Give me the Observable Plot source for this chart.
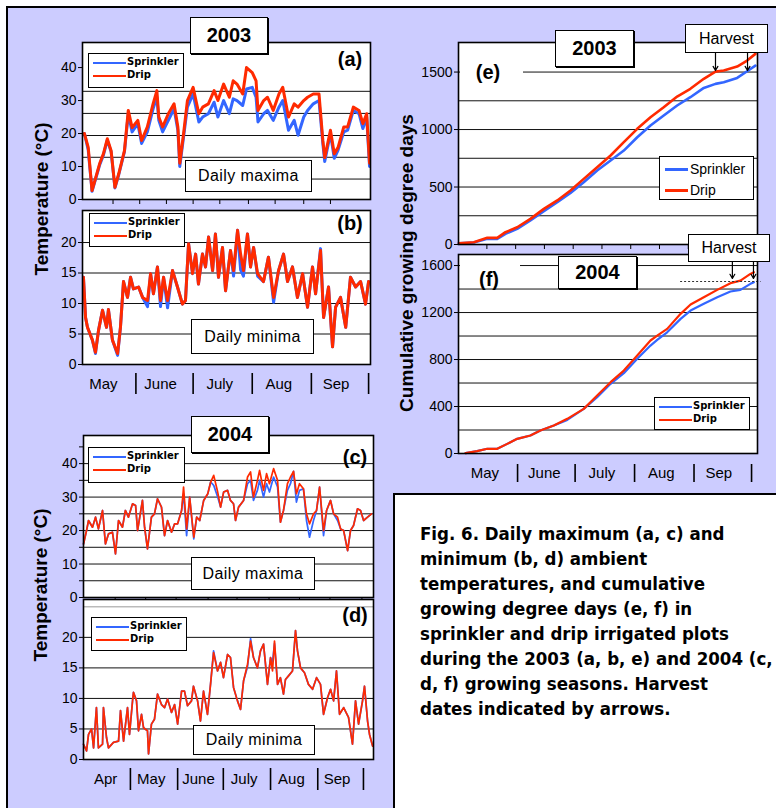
<!DOCTYPE html>
<html><head><meta charset="utf-8">
<script src="https://cdn.jsdelivr.net/npm/d3@7"></script>
<script src="https://cdn.jsdelivr.net/npm/@observablehq/plot@0.6"></script>
<style>
body{margin:0;background:#fff;}
#page{position:relative;width:776px;height:808px;overflow:hidden;background:#fff;font-family:"Liberation Sans",Arial,sans-serif;color:#000;}
#bg{position:absolute;left:6px;top:6px;width:820px;height:840px;background:#ccccff;border-top:2px solid #000;border-left:2px solid #000;}
#plots,#over{position:absolute;left:0;top:0;width:776px;height:808px;}
.box{position:absolute;background:#fff;border:1px solid #000;box-sizing:border-box;display:flex;align-items:center;justify-content:center;white-space:nowrap;}
.title{font-weight:bold;font-size:20px;box-shadow:1px 1px 0 #000;}
.note{font-size:16px;letter-spacing:0.4px;}
.plab{position:absolute;font-weight:bold;font-size:20px;transform:translate(-50%,-50%);white-space:nowrap;}
.ylab{position:absolute;font-weight:bold;font-size:19px;transform:translate(-50%,-50%) rotate(-90deg);white-space:nowrap;}
.leg{position:absolute;background:#fff;border:1px solid #000;box-sizing:border-box;}
.leg .ll{position:absolute;left:4px;width:33px;height:2px;}
.leg span{position:absolute;left:38px;font:bold 10px "DejaVu Sans",sans-serif;line-height:12px;}
.leg2 .ll{left:5px;width:23px;height:3px;}
.leg2 span{left:30px;font:14px "Liberation Sans",Arial,sans-serif;line-height:16px;}
.cover{position:absolute;background:#fff;}
#cap{position:absolute;left:393px;top:493px;width:420px;height:340px;background:#fff;border-top:2px solid #000;border-left:2px solid #000;box-sizing:border-box;padding:26px 0 0 25px;font:bold 18.5px "DejaVu Sans Condensed","DejaVu Sans",sans-serif;line-height:25px;white-space:nowrap;}
</style></head>
<body>
<div id="page">
<div id="bg"></div>
<div id="plots"></div>
<div id="over"></div>
</div>
<script>
const RED = "#ff2a00", BLUE = "#3366ff";

// ---- Panel (a): 2003 daily maxima (day of year) ----
const aDays = [125,127,129,132,133,135,137,139,141,143,146,148,150,153,155,158,161,163,164,166,169,172,174,175,177,179,182,185,187,190,193,195,198,201,203,205,208,210,213,215,216,219,221,224,227,229,232,235,237,240,242,245,248,250,251,254,256,258,261,263,266,269,271,273,274.5];
const aDrip = [20,15.8,2.7,8.8,10.9,13.9,18.4,14.8,3.7,7.8,14.8,27,21.8,24,17.9,22,29,33,25,22,26,29,22,11,20,30,34,26,28,29,33,30,35,31,36,35,32,40,38.5,36,27,30,31,27,32,34,25,29,28,30,31,32,32,18,12.7,21,13.9,15.8,22,22,28,27,23,26,11];
const aSprk = [20,15,2.5,8.5,10.5,13.5,18,14.5,3.5,7.5,14.5,26,20.5,23,17,20.5,27.5,31,24,20.5,24,27.5,21,10,19,28,32,23.5,25,26,29.5,25,30,26,30.5,30,28.5,33.5,34,31,23.5,26,27,24,28,30,21,24,19.5,25,27,29,30,17,11.5,20,12.5,15,20.5,21,27,26,21.5,25,10];

// ---- Panel (b): 2003 daily minima ----
const bDays = [124.5,125.6,126.6,129.2,130.8,132.4,134.5,136.6,137.6,139.7,142.4,143.9,145.5,147.6,149.2,150.7,153.4,155.5,158.1,159.7,161.2,163.3,164.9,166.5,168.6,171.2,173.8,176.4,178,179.6,181.7,183.3,184.8,186.9,188.5,190.1,192.2,193.7,195.3,197.4,199,201.6,203.2,205.3,206.9,208.4,210.5,212.1,213.7,215.8,218.9,221.5,224.2,226.8,229.4,231.5,234.1,236.7,239.4,242,244.6,246.2,248.8,250.4,253,255.1,256.7,259.3,262,264.5,267.2,269.8,272.4,274];
const bDrip = [14.3,7.7,6.1,4,2,5.6,8.9,6.1,9,4,1.8,6.1,13.6,11,14.3,12.4,12.7,11,10.5,14.9,11.6,16,10.5,14.3,10.5,15.4,12.7,9.9,10.5,19.8,14.9,18.1,13.2,18.1,16,20.9,15.4,21.4,14.3,19.2,12.1,18.7,15.4,22,18.1,15.4,21.4,16,19.2,14.9,13.6,17.6,11,15.4,18.1,13.6,16,11,14.9,9.4,16,11.6,18.7,7.7,12.7,2.9,9.4,11,6.1,14.3,12.7,13.6,9.9,13.6];
const bSprk = [14.3,7.7,6.1,4,1.8,5.6,8.9,6.1,9,4,1.5,6.1,13.6,11,14.3,12.4,12.7,11,9.5,14.9,11.6,16,9.5,14.3,9.3,15.4,12.7,9.9,10.5,19.8,14.9,18.1,13.2,18.1,16,20.9,15.4,21.4,14.3,19.2,12.1,18.7,14.5,22,15.5,14.5,21.4,16,19.2,14.5,13.6,17.6,10.2,15.4,18.1,13.6,16,11,14.9,9.4,16,11.6,19,7.7,12.7,2.9,9.4,11,6.1,14.3,12.7,13.6,9.9,13.6];

// ---- Panel (c): 2004 daily maxima ----
const cDays = [91.2,93.2,94.5,97.1,99.1,101,103.7,105.6,107.6,110.2,112.2,114.2,116.8,118.7,120.7,123.4,125.4,126.7,129.9,131.3,133.2,135.8,137.8,139.8,142.4,144.4,146.4,149,151,153,155.6,156.9,158.9,160.9,163.6,165.5,167.5,170.1,172.8,174.7,176.7,179.3,181.2,183.2,185.8,187.7,189.7,191,193,196.3,198.9,200.9,202.8,205.4,206.8,209.4,211.4,213.3,216,218.6,220.5,222.5,225.1,227.1,229.1,231,233,235.6,237.6,239.6,242.2,244.2,246.2,248.8,250.8,253.4,255.4,258,260,262,264.6,266.5,268.5,271.1,273.1,275.1,277.7,280.3];
const cDrip = [16,20,23,21,24,20.5,26,16,19,19.5,13,23,21,26,24,28,27.5,20,29,21,14.5,24,25,29.5,27,18.5,23,19.5,22,22,26,33,20.5,30,18,24,23,29,31,34.5,36.5,31.5,27,31.5,32,29,28,23,27,29,36,37.5,30,35,38,32,37,34,38.5,35,22.5,26,34,36,37.7,31,34,32.5,25,22,25,26,33,20,26,29,25,24,20.5,20,14,20,21.5,26.5,26,23,24,25];
const cSprk = [16,20,23,21,24,20.5,26,16,19,19.5,13,23,21,26,24,28,27.5,20,29,21,14.5,24,25,29.5,27,18.5,23,19.5,22,22,26,31,18.5,30,17.5,24,23,29,31,34.5,33.5,30,27,31.5,32,29,28,23,27,29,34,35,29,32,35,30,34,31.5,36,33,22.5,26,32,34,37.7,28.5,32,32.5,23,18,23,26,33,18.5,26,29,25,23,20.5,20,14,20,21.5,26.5,26,23,24,25];

// ---- Panel (d): 2004 daily minima ----
const dDays = [91.2,93.2,94.5,96.5,97.8,99.7,101,103.7,104.3,106.3,107.6,110.9,114.2,115.5,117.5,118.8,120.1,121.4,123.4,124,126,127.3,129.3,130.6,133.2,133.9,135.8,137.8,139.8,142.4,144.4,146.4,149,151,153,155.6,157.5,159.5,162.1,163.4,166.1,168,170,172.6,174.6,176.6,179.2,181.2,183.1,185.8,187.7,189.7,192.3,194.3,196.3,198.9,200.9,202.8,205.4,207.4,209.4,212,214,215.3,216.6,218.6,220.5,222.5,223.8,225.8,228.4,230.4,231.7,233.7,236.3,238.9,241.6,244.2,246.8,248.8,251.4,253.4,255.4,257.3,259.3,262,265.2,267.8,269.8,271.8,274.4,275.7,277.7,279,281];
const dDrip = [2.5,1.4,4.1,5,1.9,8.5,1.9,2.5,8.5,3.6,1.9,2.8,3,8,3,5.8,8.5,4.1,9.6,11,9.6,4.7,7.4,5.2,4.7,0.9,5.8,6.6,10.7,9,8.5,9.9,7.7,9,5.8,11.2,11.2,8.8,9.6,12,9.6,6.3,11.2,7.4,12.3,17.5,14.5,15.9,13.4,17.2,16.7,11.8,9.6,8.2,12.9,15.6,19.4,16.7,15,17.8,18.9,12.3,16.7,14.5,19.4,12.3,13.4,10.7,13.1,13.7,14.5,21.1,17.8,15,14.2,12.3,11.5,13.4,12.3,7.4,10.1,11.5,9.6,14.5,7.4,8.5,6.9,2.5,9.6,5.8,9.6,12,6.3,4.1,2.2];
const dSprk = [2.5,1.4,4.1,5,1.9,8.5,1.9,2.5,8.5,3.6,1.9,2.8,3,8,3,5.8,8.5,4.1,9.6,11,9.6,4.7,7.4,5.2,4.7,0.9,5.8,6.6,10.7,9,8.5,9.9,7.7,9,5.8,11.2,11.2,8.8,9.6,12,9.6,6.3,11.2,7.4,12.3,17.8,14.5,15.9,13.4,17.2,16.7,11.8,9.6,8.2,12.9,15.2,19.8,16.7,15,17.8,18.9,12.3,16.7,16,19,12.3,13.4,10.7,13.1,13.7,14.5,21.1,17.8,15,14.2,12.3,11.5,13.4,12.3,7.4,10.1,11.5,9.6,14.5,7.4,8.5,6.9,2.5,9.6,5.8,9.6,12,6.3,4.1,2.2];

// ---- Panel (e): 2003 cumulative GDD ----
const eDays = [121.4,129.2,136.2,141.4,145.7,151.8,158.7,165.7,172.7,179.6,186.5,193.5,200.5,207.4,214.4,221.3,228.2,235.2,242.1,249.1,255.2,259.5,266.5,271.7,276];
const eDrip = [10,20,58,58,107,150,223,310,383,470,571,672,774,890,1006,1107,1194,1287,1354,1441,1504,1513,1548,1600,1658];
const eSprk = [10,18,49,49,93,136,209,290,368,449,542,643,730,817,933,1035,1122,1209,1281,1362,1397,1412,1449,1507,1556];
const eHarvestDays = [255.2, 271.9];
const eHarvestGDD = [1513, 1513];

// ---- Panel (f): 2004 cumulative GDD ----
const fDays = [125.9,131.9,137.2,142.4,147.6,152.8,159.7,164.9,171.9,178.9,187.5,194.5,201.5,208.4,215.4,222.3,225.8,231,238,243.2,250.1,257.1,264,269.2,274.4,276.2];
const fDrip = [3,20,40,40,82,125,153,196,238,295,380,494,607,706,834,962,1004,1061,1189,1268,1330,1393,1450,1472,1529,1543];
const fSprk = [3,20,40,40,82,125,153,196,238,286,380,480,593,684,806,919,967,1032,1146,1217,1274,1330,1379,1393,1444,1458];
const fHarvestDays = [265, 276];
const fHarvestGDD = [1490, 1490];
const fHarvestLevel = [1464];

// ---- Month labels (day of year) ----
const months03 = ["May","June","July","Aug","Sep"];
const mid03 = [136,166,197,228,258];
const sep03 = [152,182,213,244,274];
const months04 = ["Apr","May","June","July","Aug","Sep"];
const mid04 = [107,137,168,198,229,259];
const sep04 = [122,153,183,214,245,275];
const monthsF = ["May","June","July","Aug","Sep"];
const midF = [137,168,198,229,259];
const sepF = [153,183,214,245,275];

const FONT = "'Liberation Sans', Arial, sans-serif";
const baseStyle = {position:"absolute", left:"0px", top:"0px", background:"transparent", overflow:"visible", fontFamily: FONT, fontSize:"14px", color:"#000"};
const holder = document.getElementById("plots");
const plain = d3.format("d");

function panel(c) {
  const data = c.days.map((d, i) => ({day: d, drip: c.drip[i], sprk: c.sprk[i]}));
  const marks = [
    Plot.frame({fill: "white"}),
    Plot.ruleY(c.grid, {stroke: "#111", strokeWidth: 1}),
    c.grayGrid ? Plot.ruleY(c.grayGrid, {stroke: "#999", strokeWidth: 1}) : null,
    Plot.line(data, {x: "day", y: "sprk", stroke: BLUE, strokeWidth: c.sw}),
    Plot.line(data, {x: "day", y: "drip", stroke: RED, strokeWidth: c.sw}),
    ...(c.extra || []),
    Plot.frame({stroke: "#000", strokeWidth: 1.6}),
    c.yMinor ? Plot.axisY(c.yMinor, {tickSize: 4, tickFormat: () => ""}) : null,
    Plot.axisY(c.yTicks, {tickSize: 4, tickPadding: 2, fontSize: 14, tickFormat: plain}),
    c.xTicks ? Plot.axisX(c.xTicks, {tickSize: 5, tickFormat: () => ""}) : null
  ];
  holder.appendChild(Plot.plot({
    width: 776, height: 808,
    marginLeft: c.L, marginRight: 776 - c.R, marginTop: c.T, marginBottom: 808 - c.B,
    x: {domain: c.xDomain, label: null, axis: null},
    y: {domain: c.yDomain, label: null},
    style: baseStyle,
    marks
  }));
}

function strip(c) {
  const labels = c.names.map((n, i) => ({name: n, mid: c.mids[i]}));
  holder.appendChild(Plot.plot({
    width: 776, height: 808,
    marginLeft: c.L, marginRight: 776 - c.R, marginTop: c.T, marginBottom: 808 - c.B,
    x: {domain: c.xDomain, label: null, axis: null},
    style: baseStyle,
    marks: [
      Plot.ruleX(c.seps, {stroke: "#000", strokeWidth: 1.6}),
      Plot.text(labels, {x: "mid", text: "name", frameAnchor: "middle", fontSize: 15, dx: -2})
    ]
  }));
}

// (a)
panel({days: aDays, drip: aDrip, sprk: aSprk, L: 82, R: 370, T: 42, B: 199,
  xDomain: [124, 275], yDomain: [0, 47.6], grid: [6.2, 12.8, 19.4, 26.1, 32.8],
  yTicks: [0, 10, 20, 30, 40], xTicks: [140,154,168,182,196,211,225,240,254], sw: 3});
// (b)
panel({days: bDays, drip: bDrip, sprk: bSprk, L: 82, R: 370, T: 210, B: 364,
  xDomain: [124, 275], yDomain: [0, 25.25], grid: [5, 10, 15, 20],
  yTicks: [0, 5, 10, 15, 20], sw: 3});
strip({names: months03, mids: mid03, seps: sep03, L: 82, R: 370, T: 373, B: 394, xDomain: [124, 275]});
// (c)
panel({days: cDays, drip: cDrip, sprk: cSprk, L: 83, R: 373, T: 435, B: 597,
  xDomain: [91.2, 281.6], yDomain: [0, 48.4], grid: [5,10,15,20,25,30,35,40],
  yTicks: [0, 10, 20, 30, 40], yMinor: [5,15,25,35,45], xTicks: [112,132,152,173,192,213,233,253,274], sw: 1.7});
// (d)
panel({days: dDays, drip: dDrip, sprk: dSprk, L: 83, R: 373, T: 599, B: 759,
  xDomain: [91.2, 281.6], yDomain: [0, 26.2], grid: [5, 10, 15, 20], grayGrid: [25],
  yTicks: [0, 5, 10, 15, 20], sw: 1.7});
strip({names: months04, mids: mid04, seps: sep04, L: 83, R: 373, T: 768, B: 790, xDomain: [91.2, 281.6]});
// (e)
const eHarvest = eHarvestDays.map((d, i) => ({day: d, gdd: eHarvestGDD[i]}));
panel({days: eDays, drip: eDrip, sprk: eSprk, L: 458, R: 757, T: 42, B: 244,
  xDomain: [121.2, 277.1], yDomain: [0, 1757], grid: [250,500,750,1000,1250,1500],
  yTicks: [0, 500, 1000, 1500], xTicks: [136,151,166,181,196,211,226,241,256,271], sw: 2.6,
  extra: [Plot.arrow(eHarvest, {x1: "day", x2: "day", y1: 1670, y2: "gdd", stroke: "#000", strokeWidth: 1.2, headLength: 6})]});
// (f)
const fHarvest = fHarvestDays.map((d, i) => ({day: d, gdd: fHarvestGDD[i]}));
panel({days: fDays, drip: fDrip, sprk: fSprk, L: 458, R: 757, T: 254, B: 453,
  xDomain: [122.2, 278.1], yDomain: [0, 1694], grid: [200,400,600,800,1000,1200,1400,1600],
  yTicks: [0, 400, 800, 1200, 1600], sw: 2.2,
  extra: [
    Plot.ruleY(fHarvestLevel, {x1: 238, x2: 280, stroke: "#333", strokeWidth: 1.2, strokeDasharray: "2,2"}),
    Plot.arrow(fHarvest, {x1: "day", x2: "day", y1: 1634, y2: "gdd", stroke: "#000", strokeWidth: 1.2, headLength: 6})
  ]});
strip({names: monthsF, mids: midF, seps: sepF, L: 458, R: 757, T: 464, B: 482, xDomain: [122.2, 278.1]});

// ---- Overlays (titles, legends, notes) ----
function smallLegend(x, y, w, h) {
  return `<div class="leg" style="left:${x}px;top:${y}px;width:${w}px;height:${h}px">
    <div class="ll" style="top:8px;background:${BLUE}"></div><span style="top:2px">Sprinkler</span>
    <div class="ll" style="top:21px;background:${RED}"></div><span style="top:15px">Drip</span></div>`;
}
const over = document.getElementById("over");
over.innerHTML = `
<div class="box title" style="left:190px;top:17px;width:78px;height:37px">2003</div>
<div class="plab" style="left:350px;top:59px">(a)</div>
${smallLegend(88, 53, 96, 35)}
<div class="box note" style="left:185px;top:160px;width:127px;height:32px">Daily maxima</div>
${smallLegend(89, 213, 96, 34)}
<div class="plab" style="left:350px;top:223px">(b)</div>
<div class="box note" style="left:191px;top:319px;width:123px;height:35px">Daily minima</div>
<div class="ylab" style="left:42px;top:199px">Temperature (°C)</div>

<div class="box title" style="left:191px;top:416px;width:78px;height:37px">2004</div>
<div class="plab" style="left:355px;top:457px">(c)</div>
${smallLegend(88, 447, 97, 36)}
<div class="box note" style="left:191px;top:557px;width:124px;height:33px">Daily maxima</div>
${smallLegend(91, 617, 96, 34)}
<div class="plab" style="left:355px;top:615px">(d)</div>
<div class="box note" style="left:193px;top:725px;width:122px;height:30px">Daily minima</div>
<div class="ylab" style="left:41px;top:585px">Temperature (°C)</div>

<div class="box title" style="left:555px;top:30px;width:79px;height:37px">2003</div>
<div class="cover" style="left:460px;top:61px;width:63px;height:22px"></div>
<div class="plab" style="left:488px;top:72px">(e)</div>
<div class="box note" style="left:685px;top:24px;width:83px;height:29px;letter-spacing:0">Harvest</div>
<div class="leg leg2" style="left:659px;top:156px;width:95px;height:44px">
  <div class="ll" style="top:11px;background:${BLUE}"></div><span style="top:4px">Sprinkler</span>
  <div class="ll" style="top:32px;background:${RED}"></div><span style="top:25px">Drip</span></div>

<div class="box title" style="left:558px;top:256px;width:79px;height:33px">2004</div>
<div class="cover" style="left:460px;top:258px;width:60px;height:27px"></div>
<div class="plab" style="left:489px;top:279px">(f)</div>
<div class="box note" style="left:688px;top:234px;width:82px;height:28px;letter-spacing:0">Harvest</div>
${smallLegend(654, 397, 96, 33)}
<div class="ylab" style="left:407px;top:263px">Cumulative growing degree days</div>

<div id="cap">Fig. 6. Daily maximum (a, c) and<br>minimum (b, d) ambient<br>temperatures, and cumulative<br>growing degree days (e, f) in<br>sprinkler and drip irrigated plots<br>during the 2003 (a, b, e) and 2004 (c,<br>d, f) growing seasons. Harvest<br>dates indicated by arrows.</div>
`;
</script>
</body></html>
